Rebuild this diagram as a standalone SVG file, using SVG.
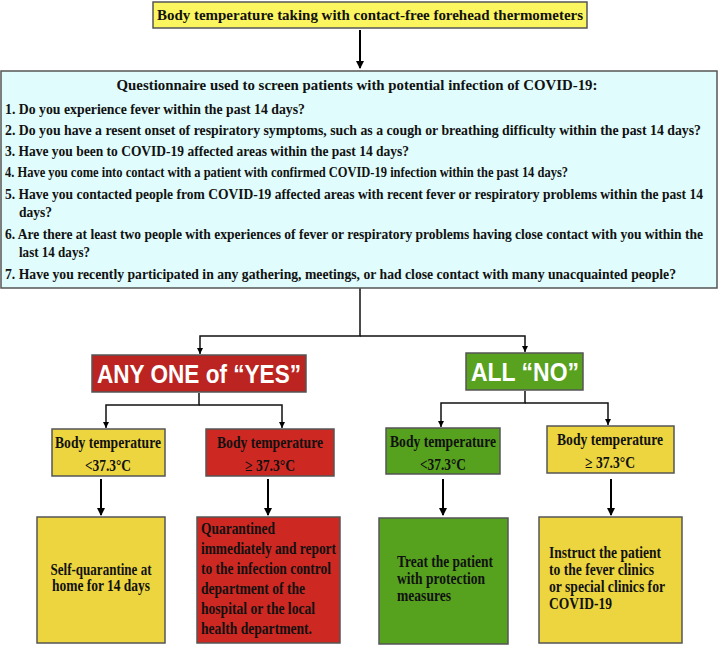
<svg xmlns="http://www.w3.org/2000/svg" width="719" height="645" viewBox="0 0 719 645">
<defs>
<marker id="ah" markerWidth="8" markerHeight="8" refX="7" refY="4" orient="auto" markerUnits="userSpaceOnUse">
<path d="M0,0 L8,4 L0,8 Z" fill="#000"/>
</marker>
<marker id="ahs" markerWidth="6" markerHeight="6" refX="6" refY="3" orient="auto" markerUnits="userSpaceOnUse">
<path d="M0,0 L6,3 L0,6 Z" fill="#000"/>
</marker>
<style>
.t{font-family:"Liberation Serif","Times New Roman",serif;font-weight:bold;font-size:16px;fill:#111}
.q{font-family:"Liberation Serif","Times New Roman",serif;font-weight:bold;font-size:15px;fill:#111}
.big{font-family:"Liberation Sans",Arial,sans-serif;font-weight:bold;font-size:26px;fill:#fff}
.box{stroke:#555;stroke-width:1.5}
.ln{stroke:#111;stroke-width:1.5;fill:none}
.lnb{stroke:#000;stroke-width:2;fill:none}
</style>
</defs>
<rect width="719" height="645" fill="#fff"/>

<g id="connectors">
<line class="lnb" x1="360" y1="30" x2="360" y2="68" marker-end="url(#ah)"/>
<polyline class="ln" points="360,288 360,336 200,336 200,354" marker-end="url(#ahs)"/>
<polyline class="ln" points="360,336 525,336 525,352" marker-end="url(#ahs)"/>
<polyline class="ln" points="199,393 199,405 106,405 106,428" marker-end="url(#ahs)"/>
<polyline class="ln" points="199,405 282,405 282,428" marker-end="url(#ahs)"/>
<polyline class="ln" points="525,391 525,403 441,403 441,427" marker-end="url(#ahs)"/>
<polyline class="ln" points="525,403 608,403 608,425" marker-end="url(#ahs)"/>
<line class="lnb" x1="101" y1="479" x2="101" y2="515" marker-end="url(#ah)"/>
<line class="lnb" x1="268" y1="479" x2="268" y2="515" marker-end="url(#ah)"/>
<line class="lnb" x1="443" y1="479" x2="443" y2="515" marker-end="url(#ah)"/>
<line class="lnb" x1="611" y1="479" x2="611" y2="515" marker-end="url(#ah)"/>
</g>

<g id="start">
<rect class="box" x="153" y="2" width="434" height="26" fill="#fbf55f"/>
<text class="q" x="370" y="20" text-anchor="middle" textLength="426" lengthAdjust="spacingAndGlyphs">Body temperature taking with contact-free forehead thermometers</text>
</g>

<g id="questionnaire">
<rect class="box" x="1" y="71" width="716" height="217" fill="#e0fcfc"/>
<text class="q" x="357" y="90" text-anchor="middle" font-size="16" textLength="481" lengthAdjust="spacingAndGlyphs">Questionnaire used to screen patients with potential infection of COVID-19:</text>
<text class="q" x="5" y="114" textLength="300" lengthAdjust="spacingAndGlyphs">1. Do you experience fever within the past 14 days?</text>
<text class="q" x="5" y="135" textLength="696" lengthAdjust="spacingAndGlyphs">2. Do you have a resent onset of respiratory symptoms, such as a cough or breathing difficulty within the past 14 days?</text>
<text class="q" x="5" y="156" textLength="404" lengthAdjust="spacingAndGlyphs">3. Have you been to COVID-19 affected areas within the past 14 days?</text>
<text class="q" x="5" y="177" textLength="563" lengthAdjust="spacingAndGlyphs">4. Have you come into contact with a patient with confirmed COVID-19 infection within the past 14 days?</text>
<text class="q" x="5" y="199" textLength="698" lengthAdjust="spacingAndGlyphs">5. Have you contacted  people from COVID-19 affected areas with recent fever or respiratory problems within the past 14</text>
<text class="q" x="19" y="217" textLength="33" lengthAdjust="spacingAndGlyphs">days?</text>
<text class="q" x="5" y="239" textLength="698" lengthAdjust="spacingAndGlyphs">6. Are there at least two people with experiences of fever or respiratory problems having close contact with you within the</text>
<text class="q" x="19" y="257" textLength="71" lengthAdjust="spacingAndGlyphs">last 14 days?</text>
<text class="q" x="5" y="279" textLength="671" lengthAdjust="spacingAndGlyphs">7. Have you recently participated in any gathering, meetings, or had close contact with many unacquainted people?</text>
</g>

<g id="any-yes">
<rect class="box" x="92" y="355" width="214" height="37" fill="#bb2420"/>
<text class="big" x="199" y="383" text-anchor="middle" textLength="204" lengthAdjust="spacingAndGlyphs">ANY ONE of “YES”</text>
</g>

<g id="all-no">
<rect class="box" x="466" y="353" width="117" height="37" fill="#58a21f"/>
<text class="big" x="525" y="381" text-anchor="middle" textLength="108" lengthAdjust="spacingAndGlyphs">ALL “NO”</text>
</g>

<g id="yes-low">
<rect class="box" x="52" y="429" width="113" height="47" fill="#ecd53f"/>
<text class="t" x="108" y="448" text-anchor="middle" textLength="106" lengthAdjust="spacingAndGlyphs">Body temperature</text>
<text class="t" x="108" y="471" text-anchor="middle" textLength="46" lengthAdjust="spacingAndGlyphs">&lt;37.3°C</text>
</g>

<g id="yes-high">
<rect class="box" x="206" y="429" width="128" height="47" fill="#cd2822"/>
<text class="t" x="270" y="448" text-anchor="middle" textLength="106" lengthAdjust="spacingAndGlyphs">Body temperature</text>
<text class="t" x="270" y="471" text-anchor="middle" textLength="50" lengthAdjust="spacingAndGlyphs">≥ 37.3°C</text>
</g>

<g id="no-low">
<rect class="box" x="386" y="428" width="114" height="46" fill="#56a11d"/>
<text class="t" x="443" y="447" text-anchor="middle" textLength="106" lengthAdjust="spacingAndGlyphs">Body temperature</text>
<text class="t" x="443" y="470" text-anchor="middle" textLength="46" lengthAdjust="spacingAndGlyphs">&lt;37.3°C</text>
</g>

<g id="no-high">
<rect class="box" x="547" y="426" width="127" height="47" fill="#ecd53f"/>
<text class="t" x="610" y="445" text-anchor="middle" textLength="106" lengthAdjust="spacingAndGlyphs">Body temperature</text>
<text class="t" x="610" y="468" text-anchor="middle" textLength="50" lengthAdjust="spacingAndGlyphs">≥ 37.3°C</text>
</g>

<g id="self-quarantine">
<rect class="box" x="37" y="517" width="128" height="126" fill="#ecd53f"/>
<text class="t" x="101" y="575" text-anchor="middle" textLength="101" lengthAdjust="spacingAndGlyphs">Self-quarantine at</text>
<text class="t" x="101" y="591" text-anchor="middle" textLength="98" lengthAdjust="spacingAndGlyphs">home for 14 days</text>
</g>

<g id="quarantine-report">
<rect class="box" x="197" y="517" width="143" height="126" fill="#cd2822"/>
<text class="t" x="201" y="534" textLength="74" lengthAdjust="spacingAndGlyphs">Quarantined</text>
<text class="t" x="201" y="554" textLength="135" lengthAdjust="spacingAndGlyphs">immediately and report</text>
<text class="t" x="201" y="574" textLength="130" lengthAdjust="spacingAndGlyphs">to the infection control</text>
<text class="t" x="201" y="594" textLength="104" lengthAdjust="spacingAndGlyphs">department of the</text>
<text class="t" x="201" y="614" textLength="114" lengthAdjust="spacingAndGlyphs">hospital or the local</text>
<text class="t" x="201" y="634" textLength="111" lengthAdjust="spacingAndGlyphs">health department.</text>
</g>

<g id="treat">
<rect class="box" x="379" y="518" width="129" height="126" fill="#56a11d"/>
<text class="t" x="397" y="567" textLength="96" lengthAdjust="spacingAndGlyphs">Treat the patient</text>
<text class="t" x="397" y="584" textLength="88" lengthAdjust="spacingAndGlyphs">with protection</text>
<text class="t" x="397" y="601" textLength="54" lengthAdjust="spacingAndGlyphs">measures</text>
</g>

<g id="instruct">
<rect class="box" x="539" y="517" width="143" height="126" fill="#ecd53f"/>
<text class="t" x="549" y="558" textLength="112" lengthAdjust="spacingAndGlyphs">Instruct the patient</text>
<text class="t" x="549" y="575" textLength="105" lengthAdjust="spacingAndGlyphs">to the fever clinics</text>
<text class="t" x="549" y="592" textLength="116" lengthAdjust="spacingAndGlyphs">or special clinics for</text>
<text class="t" x="549" y="609" textLength="63" lengthAdjust="spacingAndGlyphs">COVID-19</text>
</g>
</svg>
